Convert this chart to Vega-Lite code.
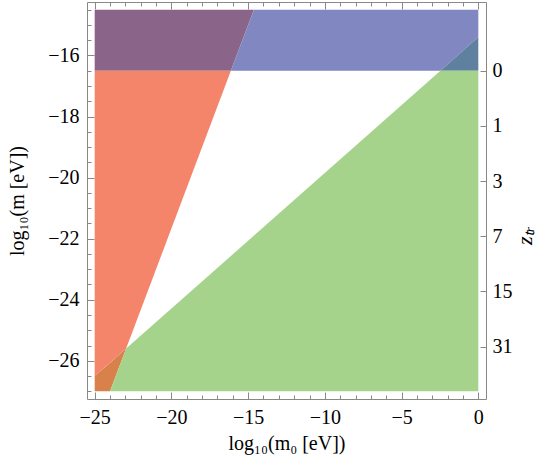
{
  "$schema": "https://vega.github.io/schema/vega-lite/v6.json",
  "width": 399,
  "height": 397,
  "autosize": {"type": "none"},
  "padding": {"left": 87, "top": 2, "right": 53, "bottom": 67},
  "config": {
    "view": {"stroke": "#888888", "strokeWidth": 1},
    "axis": {
      "domain": false,
      "grid": false,
      "tickColor": "#888888",
      "tickWidth": 1,
      "labelColor": "black",
      "labelFont": "Liberation Serif",
      "labelFontSize": 20,
      "titleFont": "Liberation Serif",
      "titleFontSize": 20,
      "titleFontWeight": "normal",
      "titleColor": "black",
      "labelFlush": false,
      "labelOverlap": false
    }
  },
  "data": {
    "values": [
      {"region": "purple", "x": -25, "y": -16.5, "y2": -14.5},
      {"region": "purple", "x": -16.125, "y": -16.5, "y2": -14.5},
      {"region": "purple", "x": -14.625, "y": -14.5, "y2": -14.5},
      {"region": "blue", "x": -16.125, "y": -16.5, "y2": -16.5},
      {"region": "blue", "x": -14.625, "y": -16.5, "y2": -14.5},
      {"region": "blue", "x": -2.47, "y": -16.5, "y2": -14.5},
      {"region": "blue", "x": 0, "y": -15.4, "y2": -14.5},
      {"region": "bluegreen", "x": -2.47, "y": -16.5, "y2": -16.5},
      {"region": "bluegreen", "x": 0, "y": -16.5, "y2": -15.4},
      {"region": "red", "x": -25, "y": -26.5, "y2": -16.5},
      {"region": "red", "x": -22.95, "y": -25.6, "y2": -16.5},
      {"region": "red", "x": -16.125, "y": -16.5, "y2": -16.5},
      {"region": "orange", "x": -25, "y": -27, "y2": -26.5},
      {"region": "orange", "x": -24, "y": -27, "y2": -26.06},
      {"region": "orange", "x": -22.95, "y": -25.6, "y2": -25.6},
      {"region": "green", "x": -24, "y": -27, "y2": -27},
      {"region": "green", "x": -22.95, "y": -27, "y2": -25.6},
      {"region": "green", "x": -2.47, "y": -27, "y2": -16.5},
      {"region": "green", "x": 0, "y": -27, "y2": -16.5}
    ]
  },
  "resolve": {"axis": {"x": "independent", "y": "independent"}},
  "layer": [
    {
      "mark": {"type": "area", "orient": "vertical", "strokeWidth": 0},
      "encoding": {
        "x": {"field": "x", "type": "quantitative",
          "scale": {"domain": [-25.5, 0.5], "nice": false, "zero": false},
          "axis": {"orient": "bottom", "values": [-25, -20, -15, -10, -5, 0], "tickSize": -7, "labelPadding": 15, "title": "log₁₀(m₀ [eV])", "titlePadding": 6}},
        "y": {"field": "y", "type": "quantitative", "stack": null,
          "scale": {"domain": [-27.25, -14.25], "nice": false, "zero": false},
          "axis": {"orient": "left", "values": [-26, -24, -22, -20, -18, -16], "tickSize": -7, "labelPadding": 15, "title": "log₁₀(m [eV])", "titlePadding": 20}},
        "y2": {"field": "y2"},
        "color": {"field": "region", "type": "nominal", "legend": null,
          "scale": {"domain": ["purple", "blue", "bluegreen", "red", "orange", "green"],
                    "range": ["#8A6489", "#8087C1", "#5F819F", "#F4846A", "#D9814A", "#A6D38B"]}}
      }
    },
    {
      "mark": {"type": "point", "opacity": 0},
      "encoding": {
        "x": {"field": "x", "type": "quantitative",
          "scale": {"domain": [-25.5, 0.5], "nice": false, "zero": false},
          "axis": {"orient": "bottom", "values": [-24, -23, -22, -21, -19, -18, -17, -16, -14, -13, -12, -11, -9, -8, -7, -6, -4, -3, -2, -1], "tickSize": -4, "labels": false, "title": null}},
        "y": {"field": "y", "type": "quantitative",
          "scale": {"domain": [-27.25, -14.25], "nice": false, "zero": false},
          "axis": {"orient": "left", "values": [-27, -26.5, -25.5, -25, -24.5, -23.5, -23, -22.5, -21.5, -21, -20.5, -19.5, -19, -18.5, -17.5, -17, -16.5, -15.5, -15, -14.5], "tickSize": -4, "labels": false, "title": null}}
      }
    },
    {
      "mark": {"type": "point", "opacity": 0},
      "encoding": {
        "x": {"field": "x", "type": "quantitative",
          "scale": {"domain": [-25.5, 0.5], "nice": false, "zero": false},
          "axis": {"orient": "top", "values": [-25, -20, -15, -10, -5, 0], "tickSize": -7, "labels": false, "title": null}},
        "y": {"field": "y", "type": "quantitative",
          "scale": {"domain": [-27.25, -14.25], "nice": false, "zero": false},
          "axis": {"orient": "right", "values": [-16.5, -18.306, -20.112, -21.9185, -23.7247, -25.5309], "tickSize": -6, "labelPadding": 12,
            "labelExpr": "format(pow(10, (-16.5 - datum.value) / 6) - 1, '.0f')",
            "title": "zₜᵣ", "titleAngle": -90, "titlePadding": 24, "titleY": 233, "titleFontSize": 22, "titleFontStyle": "italic"}}
      }
    },
    {
      "mark": {"type": "point", "opacity": 0},
      "encoding": {
        "x": {"field": "x", "type": "quantitative",
          "scale": {"domain": [-25.5, 0.5], "nice": false, "zero": false},
          "axis": {"orient": "top", "values": [-24, -23, -22, -21, -19, -18, -17, -16, -14, -13, -12, -11, -9, -8, -7, -6, -4, -3, -2, -1], "tickSize": -4, "labels": false, "title": null}},
        "y": {"field": "y", "type": "quantitative",
          "scale": {"domain": [-27.25, -14.25], "nice": false, "zero": false},
          "axis": null}
      }
    }
  ]
}
